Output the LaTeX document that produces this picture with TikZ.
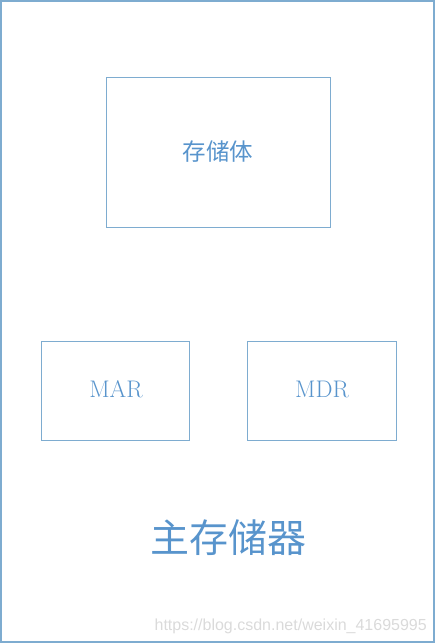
\documentclass[tikz,border=0pt]{standalone}
\usepackage{fontspec}
\newfontfamily\cjk{Noto Sans CJK SC}
\newfontfamily\wm{Liberation Sans}
\definecolor{lineblue}{RGB}{126,172,208}
\definecolor{textblue}{RGB}{88,148,204}
\definecolor{wmgray}{RGB}{218,218,218}
\begin{document}
\begin{tikzpicture}[x=1pt,y=-1pt,
  box/.style={draw=lineblue,line width=1.2pt},
  lbl/.style={text=textblue,inner sep=0pt}]
\useasboundingbox (0,0) rectangle (436,644);
\draw[box] (1,1) rectangle (434,642);
\node[box,minimum width=224pt,minimum height=150pt,anchor=north west,inner sep=0pt] (mem) at (106,77) {};
\node[box,minimum width=148pt,minimum height=99pt,anchor=north west,inner sep=0pt] (mar) at (41,341) {};
\node[box,minimum width=149pt,minimum height=99pt,anchor=north west,inner sep=0pt] (mdr) at (247,341) {};
\node[lbl,font=\cjk\fontsize{23.5}{25}\selectfont] (t1) at (218,152) {存储体};
\node[lbl,font=\fontsize{24}{26}\selectfont] (t2) at (116,389) {MAR};
\node[lbl,font=\fontsize{24}{26}\selectfont] (t3) at (322,389) {MDR};
\node[lbl,font=\cjk\fontsize{39}{42}\selectfont] (t4) at (228,538) {主存储器};
\node[inner sep=0pt,text=wmgray,font=\wm\fontsize{16}{17}\selectfont,anchor=east] (wm) at (427,626) {https://blog.csdn.net/weixin\_41695995};
\end{tikzpicture}
\end{document}
